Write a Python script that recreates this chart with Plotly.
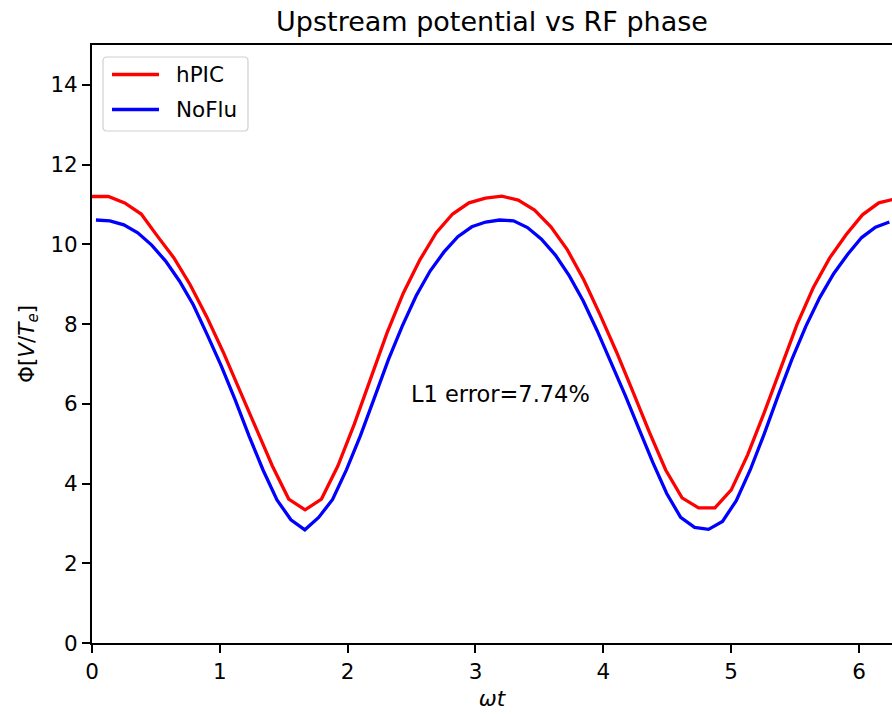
import plotly.graph_objects as go

# ---- data ----
x_hpic = [0.0, 0.128, 0.256, 0.385, 0.513, 0.641, 0.769, 0.898, 1.026, 1.154,
          1.282, 1.411, 1.539, 1.667, 1.795, 1.923, 2.052, 2.180, 2.308, 2.436,
          2.565, 2.693, 2.821, 2.949, 3.078, 3.206, 3.334, 3.462, 3.590, 3.719,
          3.847, 3.975, 4.103, 4.232, 4.360, 4.488, 4.616, 4.745, 4.873, 5.001,
          5.129, 5.258, 5.386, 5.514, 5.642, 5.771, 5.899, 6.027, 6.155, 6.283]
phi_hpic = [11.20, 11.20, 11.04, 10.76, 10.20, 9.66, 8.98, 8.18, 7.30, 6.35,
            5.39, 4.44, 3.61, 3.34, 3.61, 4.44, 5.49, 6.65, 7.78, 8.78,
            9.61, 10.29, 10.76, 11.04, 11.16, 11.21, 11.11, 10.86, 10.44, 9.86,
            9.11, 8.23, 7.30, 6.30, 5.29, 4.34, 3.64, 3.39, 3.39, 3.84,
            4.72, 5.77, 6.90, 7.98, 8.91, 9.66, 10.24, 10.74, 11.04, 11.14]

x_noflu = [0.031, 0.140, 0.249, 0.358, 0.467, 0.576, 0.684, 0.793, 0.902, 1.011,
           1.120, 1.229, 1.338, 1.447, 1.556, 1.665, 1.773, 1.882, 1.991, 2.100,
           2.209, 2.318, 2.427, 2.536, 2.645, 2.754, 2.862, 2.971, 3.080, 3.189,
           3.298, 3.407, 3.516, 3.625, 3.734, 3.843, 3.951, 4.060, 4.169, 4.278,
           4.387, 4.496, 4.605, 4.714, 4.823, 4.932, 5.040, 5.149, 5.258, 5.367,
           5.476, 5.585, 5.694, 5.803, 5.912, 6.021, 6.129, 6.238]
phi_noflu = [10.61, 10.59, 10.49, 10.29, 9.98, 9.58, 9.08, 8.48, 7.73, 6.95,
             6.10, 5.19, 4.34, 3.59, 3.09, 2.84, 3.15, 3.60, 4.35, 5.20,
             6.15, 7.10, 7.95, 8.71, 9.33, 9.81, 10.19, 10.44, 10.56, 10.61,
             10.59, 10.42, 10.13, 9.73, 9.21, 8.58, 7.84, 7.06, 6.23, 5.38,
             4.53, 3.75, 3.15, 2.90, 2.85, 3.05, 3.57, 4.34, 5.24, 6.20,
             7.12, 7.95, 8.67, 9.27, 9.75, 10.17, 10.43, 10.56]

series_names = ["hPIC", "NoFlu"]
series_colors = ["#ff0000", "#0000ff"]
x_ticks = [0, 1, 2, 3, 4, 5, 6]
y_ticks = [0, 2, 4, 6, 8, 10, 12, 14]
error_text = "L1 error=7.74%"
error_pos = (2.5, 6.0)

FONT = "DejaVu Sans"
LW = 3.3

fig = go.Figure()
fig.add_trace(go.Scatter(x=x_hpic, y=phi_hpic, mode="lines", name=series_names[0],
                         line=dict(color=series_colors[0], width=LW), showlegend=False))
fig.add_trace(go.Scatter(x=x_noflu, y=phi_noflu, mode="lines", name=series_names[1],
                         line=dict(color=series_colors[1], width=LW), showlegend=False))

fig.add_annotation(x=error_pos[0], y=error_pos[1], text=error_text,
                   xref="x", yref="y", xanchor="left", yanchor="bottom",
                   showarrow=False, yshift=-5, xshift=-3,
                   font=dict(family=FONT, size=22.5, color="#000000"))

# ---- legend box drawn in paper coordinates (matplotlib-style) ----
PL, PT, PW, PH = 92, 45, 800, 598      # plot area in pixels


def px(xp):
    return (xp - PL) / PW


def py(yp):
    return (PT + PH - yp) / PH


bx0, bx1, by0, by1, r = 103, 248, 57, 131, 4
rx, ry = r / PW, r / PH
path = (f"M {px(bx0)+rx},{py(by0)} L {px(bx1)-rx},{py(by0)} "
        f"Q {px(bx1)},{py(by0)} {px(bx1)},{py(by0)-ry} "
        f"L {px(bx1)},{py(by1)+ry} Q {px(bx1)},{py(by1)} {px(bx1)-rx},{py(by1)} "
        f"L {px(bx0)+rx},{py(by1)} Q {px(bx0)},{py(by1)} {px(bx0)},{py(by1)+ry} "
        f"L {px(bx0)},{py(by0)-ry} Q {px(bx0)},{py(by0)} {px(bx0)+rx},{py(by0)} Z")
fig.add_shape(type="path", path=path, xref="paper", yref="paper",
              line=dict(color="#d0d0d0", width=1.2), fillcolor="rgba(255,255,255,0.8)",
              layer="above")
for i, (name, col) in enumerate(zip(series_names, series_colors)):
    yy = 74.5 + 35 * i
    fig.add_shape(type="line", xref="paper", yref="paper",
                  x0=px(112), x1=px(159), y0=py(yy), y1=py(yy),
                  line=dict(color=col, width=LW), layer="above")
    fig.add_annotation(x=px(176), y=py(yy), xref="paper", yref="paper",
                       text=name, showarrow=False, xanchor="left", yanchor="middle",
                       xshift=-2, font=dict(family=FONT, size=21.5, color="#000000"))

fig.update_layout(
    width=892, height=714,
    margin=dict(l=92, r=0, t=45, b=71),
    paper_bgcolor="white", plot_bgcolor="white",
    font=dict(family=FONT, color="#000000", size=21.5),
    title=dict(text="Upstream potential vs RF phase", x=0.5, xref="paper",
               xanchor="center", y=1 - 22 / 714, yref="container", yanchor="middle",
               font=dict(family=FONT, size=27, color="#000000")),
    showlegend=False,
    xaxis=dict(range=[0, 800 / 127.83], tickvals=x_ticks, ticktext=[str(v) for v in x_ticks],
               showline=True, linecolor="#000000", linewidth=1.8, mirror=True,
               ticks="outside", ticklen=8, tickwidth=1.5, tickcolor="#000000",
               showgrid=False, zeroline=False,
               tickfont=dict(family=FONT, size=21.5),
               title=dict(text="<i>ωt</i>", font=dict(family=FONT, size=21.5), standoff=8)),
    yaxis=dict(range=[0, 15], tickvals=y_ticks, ticktext=[str(v) for v in y_ticks],
               showline=True, linecolor="#000000", linewidth=1.8, mirror=False,
               ticks="outside", ticklen=8, tickwidth=1.5, tickcolor="#000000",
               showgrid=False, zeroline=False,
               tickfont=dict(family=FONT, size=21.5),
               title=dict(text="Φ[<i>V</i>/<i>T</i><sub><i>e</i></sub>]",
                          font=dict(family=FONT, size=21.5), standoff=10)),
)

fig.write_html("out.html")
